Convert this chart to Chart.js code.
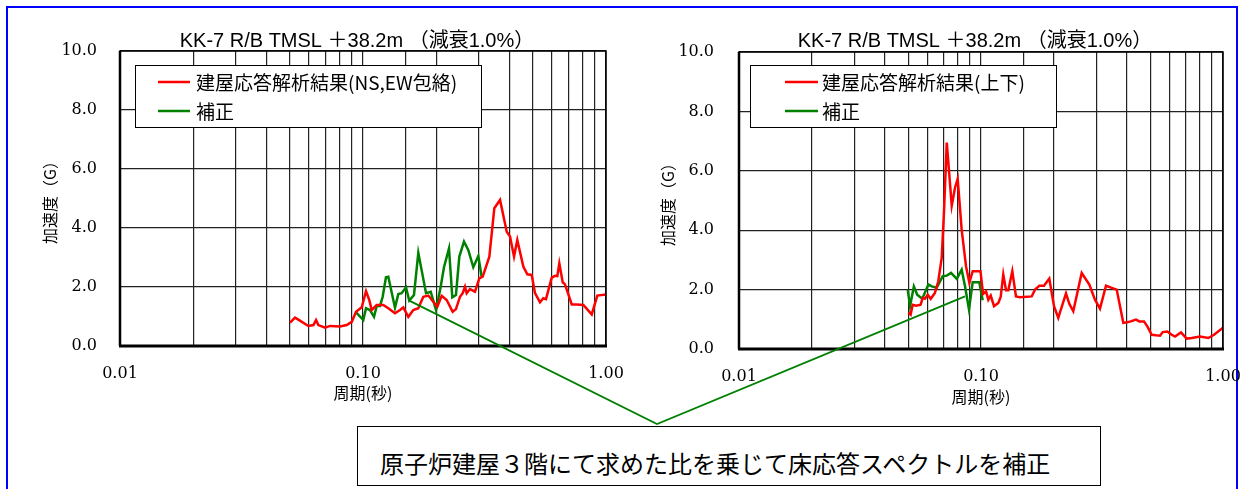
<!DOCTYPE html>
<html>
<head>
<meta charset="utf-8">
<script src="https://cdn.jsdelivr.net/npm/chart.js@4/dist/chart.umd.min.js"></script>
<style>
body { margin:0; background:#fff; }
#page { position:relative; width:1241px; height:489px; overflow:hidden; background:#fff; }
#frame { position:absolute; left:6px; top:6px; width:1228px; height:520px; border:2px solid #0000ff; }
#left { position:absolute; left:0; top:0; }
#right { position:absolute; left:620px; top:0; }
#note { position:absolute; left:357px; top:426px; width:744px; height:60px; box-sizing:border-box;
        border:1.5px solid #000; background:#fff; font-family:"Noto Sans CJK JP"; font-size:24px;
        line-height:24px; padding:24px 0 0 22px; white-space:nowrap; color:#000; }
#links { position:absolute; left:0; top:0; pointer-events:none; }
</style>
</head>
<body>
<div id="page">
  <div id="frame"></div>
  <canvas id="left" width="650" height="420"></canvas>
  <canvas id="right" width="621" height="420"></canvas>
  <div id="note"></div>
  <canvas id="links" width="1241" height="489"></canvas>
</div>
<script>
// =======================
// DATA
// =======================
const chartTitle = 'KK-7 R/B TMSL ＋38.2m （減衰1.0%）';
const xAxisTitle = '周期(秒)';
const yAxisTitle = '加速度（G）';
const noteText = '原子炉建屋３階にて求めた比を乗じて床応答スペクトルを補正';

const leftNames = ['建屋応答解析結果(NS,EW包絡)', '補正'];
const rightNames = ['建屋応答解析結果(上下)', '補正'];

const periodTicks = [0.01, 0.1, 1];
const periodTickLabels = ['0.01', '0.10', '1.00'];

// left: horizontal (NS,EW envelope)
const leftRedPeriod = [0.0501,0.0525,0.0550,0.0596,0.0625,0.0641,0.0655,0.0698,0.0732,0.0804,0.0857,0.0899,0.0936,0.0988,0.1029,0.1061,0.1086,0.1139,0.1212,0.1271,0.1354,0.1420,0.1465,0.1536,0.1611,0.1689,0.1771,0.1857,0.1947,0.2022,0.2108,0.2210,0.2339,0.2413,0.2507,0.2572,0.2629,0.2671,0.2756,0.2890,0.3010,0.3109,0.3311,0.3471,0.3664,0.3904,0.4027,0.4183,0.4315,0.4568,0.4745,0.4946,0.5104,0.5350,0.5521,0.5663,0.5978,0.6168,0.6305,0.6425,0.6635,0.6782,0.7227,0.7577,0.8066,0.8735,0.9210,1.00];
const leftRedAccel = [0.79,0.96,0.86,0.68,0.71,0.88,0.71,0.62,0.68,0.66,0.71,0.82,1.16,1.31,1.86,1.56,1.22,1.39,1.39,1.28,1.11,1.22,1.31,0.99,1.22,1.28,1.67,1.71,1.50,1.33,1.70,1.56,1.16,1.25,1.67,1.79,2.01,1.79,1.93,1.84,2.29,2.35,3.03,4.67,4.95,3.87,3.71,3.03,3.59,2.69,2.43,2.41,1.79,1.48,1.62,1.59,2.32,2.38,2.37,2.80,2.16,2.09,1.41,1.41,1.39,1.07,1.71,1.75];
const leftGreenPeriod = [0.0936,0.1003,0.1029,0.1068,0.1110,0.1139,0.1175,0.1205,0.1243,0.1271,0.1354,0.1397,0.1442,0.1503,0.1550,0.1621,0.1689,0.1817,0.1900,0.1997,0.2088,0.2154,0.2259,0.2331,0.2413,0.2491,0.2604,0.2713,0.2844,0.2982,0.3081];
const leftGreenAccel = [1.14,0.88,1.28,1.22,0.99,1.36,1.36,1.67,2.33,2.35,1.30,1.76,1.79,1.99,1.54,1.73,3.16,1.79,1.84,1.22,2.01,2.67,3.31,1.65,1.73,3.03,3.54,3.25,2.67,3.05,2.33];

// right: vertical
const rightRedPeriod = [0.0501,0.0512,0.0522,0.0539,0.0563,0.0574,0.0587,0.0602,0.0620,0.0645,0.0666,0.0688,0.0703,0.0722,0.0757,0.0781,0.0801,0.0832,0.0867,0.0895,0.0924,0.0974,0.0995,0.1020,0.1049,0.1072,0.1097,0.1132,0.1179,0.1206,0.1236,0.1269,0.1297,0.1347,0.1395,0.1449,0.1620,0.1672,0.1741,0.1821,0.1915,0.2003,0.2086,0.2245,0.2317,0.2406,0.2607,0.2803,0.2958,0.3102,0.3285,0.3468,0.3637,0.3873,0.4022,0.4154,0.4370,0.4510,0.4716,0.4867,0.5075,0.5286,0.5492,0.5634,0.5887,0.6138,0.6334,0.6705,0.7079,0.7425,0.8035,0.8696,0.9181,0.9972];
const rightRedAccel = [1.23,1.16,1.49,1.46,1.49,1.72,1.69,1.83,1.69,1.89,2.28,3.07,4.59,6.95,4.83,5.43,5.73,4.02,2.79,2.23,2.62,2.62,2.62,1.85,1.94,1.66,1.80,1.44,1.55,1.75,2.51,1.98,1.98,2.62,1.77,1.74,1.77,2.00,2.13,2.13,2.37,1.44,1.05,1.87,1.52,1.27,2.56,2.17,1.66,1.36,2.13,2.06,2.00,0.88,0.90,0.93,0.99,0.93,0.93,0.76,0.48,0.46,0.45,0.57,0.59,0.48,0.42,0.56,0.35,0.37,0.42,0.37,0.48,0.71];
const rightGreenPeriod = [0.0498,0.0509,0.0528,0.0545,0.0572,0.0606,0.0626,0.0656,0.0695,0.0722,0.0752,0.0794,0.0832,0.0859,0.0892,0.0924,0.0984,0.1016];
const rightGreenAccel = [2.00,1.44,2.11,1.83,1.69,2.17,2.11,2.06,2.45,2.47,2.56,2.36,2.67,2.11,1.33,2.25,2.25,1.64];

// callout anchors (period, accel) on each chart
const leftLink = [0.1550, 1.54];
const rightLink = [0.0859, 1.77];

// =======================
// PLUGIN: frame, title, boxed legend
// =======================
const framePlugin = {
  id: 'frame',
  afterDraw(chart, args, o) {
    const ctx = chart.ctx;
    const a = chart.chartArea;
    ctx.save();

    ctx.strokeStyle = '#000';
    ctx.lineWidth = 1.5;
    ctx.strokeRect(a.left, a.top, a.right - a.left, a.bottom - a.top);
    ctx.lineWidth = 2.5;
    ctx.beginPath(); ctx.moveTo(a.left, a.top); ctx.lineTo(a.left, a.bottom); ctx.stroke();
    ctx.lineWidth = 3;
    ctx.beginPath(); ctx.moveTo(a.left - 1, a.bottom); ctx.lineTo(a.right + 1, a.bottom); ctx.stroke();

    // title
    ctx.fillStyle = '#000';
    ctx.font = '20px "Liberation Sans", "Noto Sans CJK JP"';
    ctx.textAlign = 'center';
    ctx.textBaseline = 'alphabetic';
    ctx.fillText(chartTitle, (a.left + a.right) / 2 - 6, 47);

    // legend
    ctx.fillStyle = '#fff';
    ctx.fillRect(o.lx, o.ly, o.lw, o.lh);
    ctx.lineWidth = 1;
    ctx.strokeStyle = '#000';
    ctx.strokeRect(o.lx + 0.5, o.ly + 0.5, o.lw, o.lh);
    ctx.font = '19px "Noto Sans CJK JP"';
    ctx.textAlign = 'left';
    ctx.textBaseline = 'middle';
    chart.data.datasets.forEach((ds, i) => {
      const y = o.ly + 17 + i * 29;
      ctx.strokeStyle = ds.borderColor;
      ctx.lineWidth = 2.5;
      ctx.beginPath(); ctx.moveTo(o.lx + o.s0, y); ctx.lineTo(o.lx + o.s1, y); ctx.stroke();
      ctx.fillStyle = '#000';
      ctx.fillText(ds.label, o.lx + o.t0, y + 1);
    });
    ctx.restore();
  }
};

// =======================
// CHART FACTORY
// =======================
function makeChart(id, names, redP, redA, greenP, greenA, L) {
  const toPts = (p, a) => p.map((v, i) => ({ x: v, y: a[i] }));
  return new Chart(document.getElementById(id), {
    type: 'line',
    data: {
      datasets: [
        { label: names[0], data: toPts(redP, redA), borderColor: '#ff0000', borderWidth: 2.5, pointRadius: 0, tension: 0, fill: false },
        { label: names[1], data: toPts(greenP, greenA), borderColor: '#008000', borderWidth: 2.5, pointRadius: 0, tension: 0, fill: false }
      ]
    },
    options: {
      responsive: false,
      animation: false,
      events: [],
      layout: { padding: { left: 0, right: L.padRight, top: L.top, bottom: 0 } },
      plugins: { legend: { display: false }, tooltip: { enabled: false }, frame: L.legend },
      scales: {
        x: {
          type: 'logarithmic', min: 0.01, max: 1,
          afterFit: s => { s.height = L.xAxisH; s.paddingLeft = 0; s.paddingRight = 0; },
          grid: { color: '#222', lineWidth: 1.2, drawTicks: false },
          border: { display: false },
          ticks: {
            autoSkip: false, maxRotation: 0, padding: 18, color: '#000',
            font: { family: 'DejaVu Serif', size: 16 },
            callback: v => {
              const k = periodTicks.findIndex(t => Math.abs(t - v) < 1e-9);
              return k >= 0 ? periodTickLabels[k] : '';
            }
          },
          title: { display: true, text: xAxisTitle, color: '#000', font: { family: 'Noto Sans CJK JP', size: 16 }, padding: { top: 0, bottom: L.xTitlePad } }
        },
        y: {
          min: 0, max: 10,
          afterFit: s => { s.width = L.left; s.paddingTop = 0; s.paddingBottom = 0; },
          grid: { color: '#222', lineWidth: 1.2, drawTicks: false },
          border: { display: false },
          ticks: {
            stepSize: 2, padding: L.yTickPad, color: '#000',
            font: { family: 'DejaVu Serif', size: 16 },
            callback: v => v.toFixed(1)
          },
          title: { display: true, text: yAxisTitle, color: '#000', font: { family: 'Noto Sans CJK JP', size: 16 }, padding: { top: L.yTitlePad, bottom: 0 } }
        }
      }
    },
    plugins: [framePlugin]
  });
}

const leftChart = makeChart('left', leftNames, leftRedPeriod, leftRedAccel, leftGreenPeriod, leftGreenAccel, {
  left: 120, padRight: 44, top: 51, xAxisH: 74, xTitlePad: 17, yTickPad: 23, yTitlePad: 40,
  legend: { lx: 135, ly: 65, lw: 346, lh: 62, s0: 23, s1: 55, t0: 61 }
});
const rightChart = makeChart('right', rightNames, rightRedPeriod, rightRedAccel, rightGreenPeriod, rightGreenAccel, {
  left: 119, padRight: 18, top: 52, xAxisH: 71, xTitlePad: 13, yTickPad: 25, yTitlePad: 38,
  legend: { lx: 130, ly: 65, lw: 306, lh: 62, s0: 35, s1: 68, t0: 72 }
});

document.getElementById('note').textContent = noteText;

// =======================
// CALLOUT LINES
// =======================
const lc = document.getElementById('links').getContext('2d');
const p1 = [leftChart.scales.x.getPixelForValue(leftLink[0]), leftChart.scales.y.getPixelForValue(leftLink[1])];
const p2 = [620 + rightChart.scales.x.getPixelForValue(rightLink[0]), rightChart.scales.y.getPixelForValue(rightLink[1])];
const apex = [657, 424];
lc.strokeStyle = '#008000';
lc.lineWidth = 1.8;
lc.beginPath();
lc.moveTo(p1[0], p1[1]);
lc.lineTo(apex[0], apex[1]);
lc.lineTo(p2[0], p2[1]);
lc.stroke();
</script>
</body>
</html>
